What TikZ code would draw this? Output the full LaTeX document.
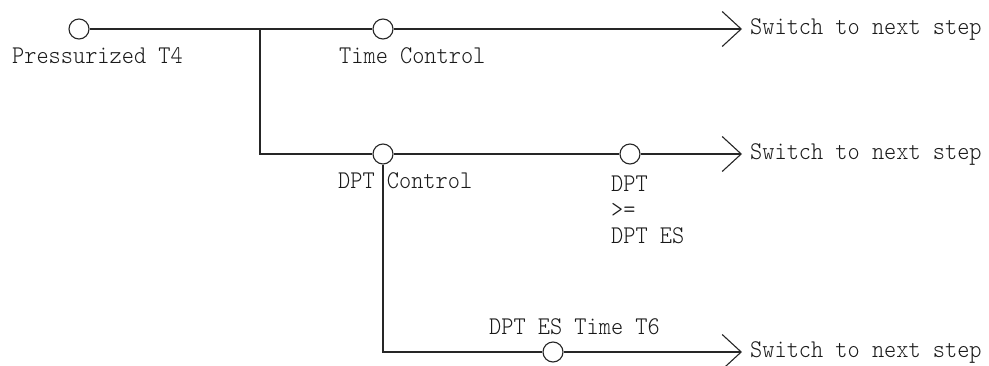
\documentclass[tikz,border=0pt]{standalone}
\usepackage{fontspec}
\usetikzlibrary{arrows.meta}
\newfontfamily\simmono[FakeStretch=0.91]{lmmonolt10-regular.otf}

\begin{document}
\begin{tikzpicture}[x=1pt,y=-1pt,
    wire/.style={draw=black!85, line width=1.2pt},
    contact/.style={circle, draw=black!85, line width=1.1pt, fill=white, minimum size=20pt, inner sep=0pt},
    lbl/.style={text=black!90, font=\simmono\fontsize{25.5}{26}\selectfont, inner sep=0pt},
    goon/.style={wire, -{Straight Barb[length=19pt,width=35pt,line width=1.1pt]}}]
  \useasboundingbox (0,0) rectangle (989,365);

  % Contacts
  \node[contact] (P4)  at (79,29)   {};
  \node[contact] (TC)  at (383,29)  {};
  \node[contact] (DC)  at (383,154) {};
  \node[contact] (DPT) at (630,154) {};
  \node[contact] (T6)  at (553,352) {};

  % Branch point and line ends
  \coordinate (J)  at (260,29);
  \coordinate (E1) at (742,29);
  \coordinate (E2) at (742,154);
  \coordinate (E3) at (742,352);

  % Top rung
  \draw[wire] (P4) -- (TC);
  \draw[goon] (TC) -- (E1);
  % Middle rung
  \draw[wire] (J) |- (DC);
  \draw[wire] (DC) -- (DPT);
  \draw[goon] (DPT) -- (E2);
  % Bottom rung
  \draw[wire] (DC) |- (T6);
  \draw[goon] (T6) -- (E3);

  % Labels
  \node[lbl, anchor=base west] (lP4) at (12,63)  {Pressurized T4};
  \node[lbl, anchor=base west] (lTC) at (339,63) {Time Control};
  \node[lbl, anchor=base west] (lDC) at (338,188) {DPT Control};
  \node[lbl, anchor=north west, align=left] (lDPT) at (611,176) {DPT\\>=\\DPT ES};
  \node[lbl, anchor=base west] (lT6) at (489,334) {DPT ES Time T6};
  \node[lbl, anchor=west] (s1) at (750,29)  {Switch to next step};
  \node[lbl, anchor=west] (s2) at (750,154) {Switch to next step};
  \node[lbl, anchor=west] (s3) at (750,352) {Switch to next step};
\end{tikzpicture}
\end{document}
